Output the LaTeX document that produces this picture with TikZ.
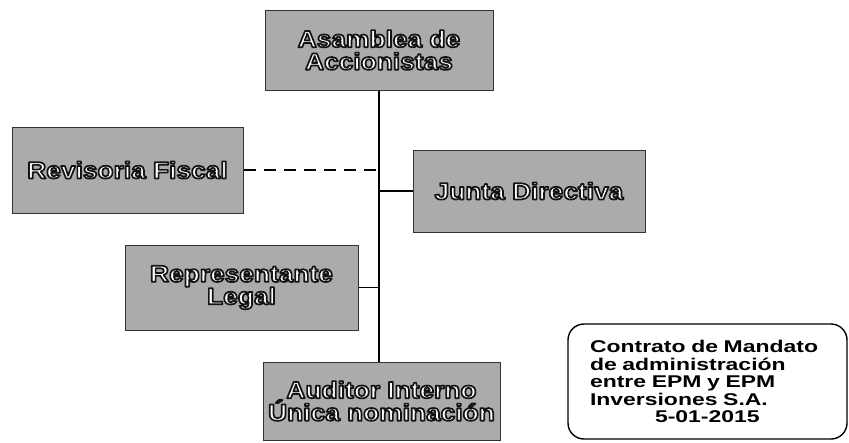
\documentclass[tikz,border=0pt]{standalone}
\usepackage{fontspec}
\newfontfamily\boxfont{Liberation Sans}[FakeStretch=1.12]
\newfontfamily\notefont{Liberation Sans}[FakeStretch=1.35]
\newcommand{\outl}[1]{\special{pdf:literal direct 2 Tr 0.08 0.08 0.08 RG 1.7 w 1 j}#1\special{pdf:literal direct 0 Tr}}
\tikzset{
  orgbox/.style={draw=black!80, line width=1pt, fill=black!33, inner sep=0pt,
    align=center, text=white, font=\boxfont\bfseries\fontsize{23.5}{22.5}\selectfont},
  conn/.style={draw=black, line width=1.4pt},
  dconn/.style={draw=black, line width=1.3pt, dash pattern=on 12pt off 8pt},
  notebox/.style={draw=black, line width=1.4pt, rounded corners=16pt, inner sep=0pt,
    align=left, text width=235pt, font=\notefont\bfseries\fontsize{17}{17.5}\selectfont}
}
\begin{document}
\begin{tikzpicture}[x=1pt,y=-1pt]
\useasboundingbox (0,0) rectangle (849,442);
\node[orgbox, minimum width=228pt, minimum height=80pt] (asam) at (379,50)
  {\outl{Asamblea de}\\\outl{Accionistas}};
\node[orgbox, minimum width=231pt, minimum height=86pt] (rev) at (127.5,170)
  {\outl{Revisoria Fiscal}};
\node[orgbox, minimum width=232pt, minimum height=82pt] (junta) at (529,191)
  {\outl{Junta Directiva}};
\node[orgbox, minimum width=233pt, minimum height=85pt] (rep) at (241.5,287.5)
  {\outl{Representante}\\\outl{Legal}};
\node[orgbox, minimum width=237pt, minimum height=78pt] (aud) at (381.5,401)
  {\outl{Auditor Interno}\\\outl{Única nominación}};
\node[notebox, minimum width=279pt, minimum height=115pt] (note) at (707.5,381.5)
  {Contrato de Mandato\\de administración\\entre EPM y EPM\\Inversiones S.A.\\\hspace*{65pt}5-01-2015};
\draw[conn] (asam.south) -- (asam.south |- aud.north);
\draw[dconn] (rev.east) -- (rev.east -| asam.south);
\draw[conn] (junta.west) -- (junta.west -| asam.south);
\draw[conn] (rep.east) -- (rep.east -| asam.south);
\end{tikzpicture}
\end{document}
